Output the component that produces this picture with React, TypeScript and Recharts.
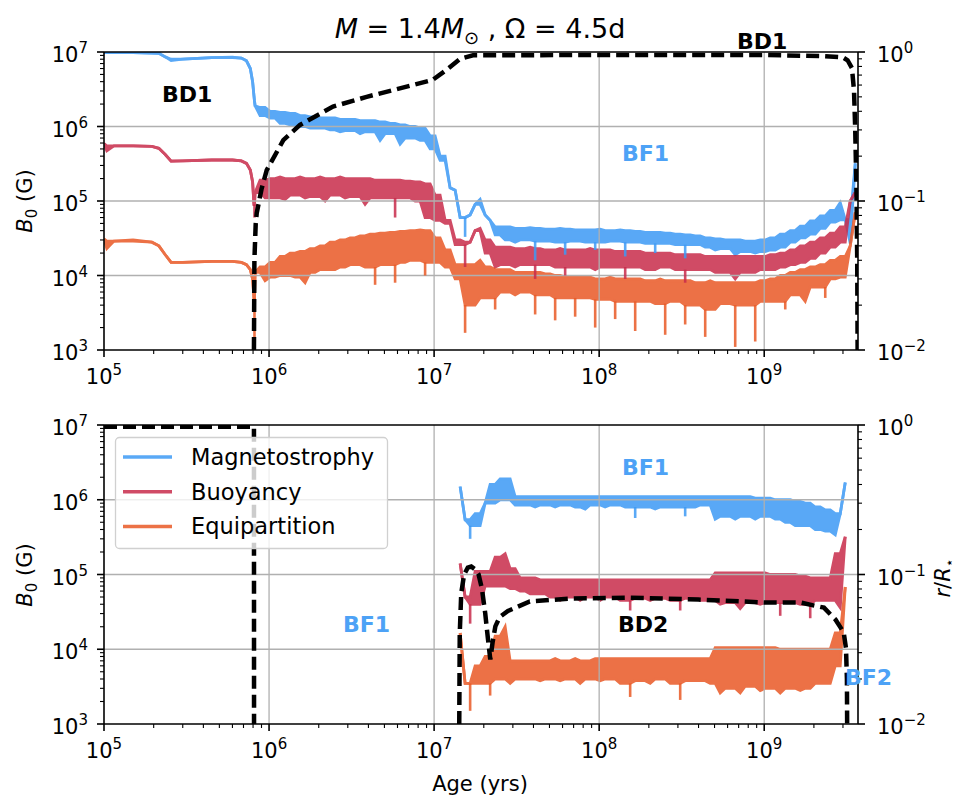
import { ComposedChart, Area, Line, XAxis, YAxis, ReferenceLine } from "recharts";

const FONT = "DejaVu Sans, Verdana, sans-serif";
const BLUE = "#3d9af5";
const RED = "#c82c4b";
const ORANGE = "#e95926";
const LABEL_BLUE = "#4da2f6";

const X_MIN = 1e5;
const X_MAX = 3.7e9;

// pre-main-sequence part of the top panel (smooth)
const earlyAge = [1e5, 1.04e5, 1.15e5, 1.5e5, 1.95e5, 2.15e5, 2.35e5, 2.55e5, 3.0e5, 4.5e5, 6.0e5, 6.8e5, 7.3e5, 7.7e5, 7.95e5, 8.1e5, 8.16e5];
const magEarly = [9.8e6, 9.8e6, 9.8e6, 9.8e6, 9.7e6, 9.6e6, 8.6e6, 7.7e6, 8.0e6, 8.4e6, 8.5e6, 8.3e6, 7.6e6, 6.0e6, 4.0e6, 2.6e6, 2.2e6];
const buoyEarly = [5.9e5, 4.7e5, 5.5e5, 5.5e5, 5.4e5, 5.1e5, 4.2e5, 3.4e5, 3.45e5, 3.55e5, 3.55e5, 3.45e5, 3.2e5, 2.6e5, 1.8e5, 9e4, 6e4];
const equiEarly = [3.1e4, 2.3e4, 2.9e4, 3.0e4, 2.8e4, 2.5e4, 1.9e4, 1.5e4, 1.5e4, 1.55e4, 1.55e4, 1.5e4, 1.4e4, 1.2e4, 9e3, 5e3, 1e3];

// age grid of the noisy part (yrs)
const age = [
  8.23e5, 8.82e5, 9.46e5, 1.014e6, 1.087e6, 1.166e6, 1.25e6, 1.341e6, 1.438e6, 1.541e6, 1.653e6,
  1.772e6, 1.9e6, 2.038e6, 2.185e6, 2.343e6, 2.512e6, 2.694e6, 2.888e6, 3.097e6, 3.32e6, 3.561e6,
  3.818e6, 4.094e6, 4.39e6, 4.707e6, 5.047e6, 5.412e6, 5.803e6, 6.222e6, 6.672e6, 7.154e6, 7.671e6,
  8.23e6, 8.82e6, 9.46e6, 1.014e7, 1.087e7, 1.166e7, 1.25e7, 1.341e7, 1.438e7, 1.541e7, 1.653e7,
  1.772e7, 1.9e7, 2.038e7, 2.185e7, 2.343e7, 2.512e7, 2.694e7, 2.888e7, 3.097e7, 3.32e7, 3.561e7,
  3.818e7, 4.094e7, 4.39e7, 4.707e7, 5.047e7, 5.412e7, 5.803e7, 6.222e7, 6.672e7, 7.154e7, 7.671e7,
  8.23e7, 8.82e7, 9.46e7, 1.014e8, 1.087e8, 1.166e8, 1.25e8, 1.341e8, 1.438e8, 1.541e8, 1.653e8,
  1.772e8, 1.9e8, 2.038e8, 2.185e8, 2.343e8, 2.512e8, 2.694e8, 2.888e8, 3.097e8, 3.32e8, 3.561e8,
  3.818e8, 4.094e8, 4.39e8, 4.707e8, 5.047e8, 5.412e8, 5.803e8, 6.222e8, 6.672e8, 7.154e8, 7.671e8,
  8.23e8, 8.82e8, 9.46e8, 1.014e9, 1.087e9, 1.166e9, 1.25e9, 1.341e9, 1.438e9, 1.541e9, 1.653e9,
  1.772e9, 1.9e9, 2.038e9, 2.185e9, 2.343e9, 2.512e9, 2.694e9, 2.888e9, 3.097e9, 3.32e9, 3.561e9,
];

const topMag = [
  1.9e6, 1.4e6, 1.8e6, 1.3e6, 1.6e6, 1.1e6, 1.55e6, 1.05e6, 1.5e6, 1.0e6, 1.4e6,
  9.5e5, 1.35e6, 9.5e5, 1.3e6, 9e5, 1.3e6, 8.5e5, 1.25e6, 8.8e5, 1.25e6, 8e5,
  1.2e6, 8.5e5, 1.2e6, 6.5e5, 1.15e6, 8e5, 1.1e6, 5.8e5, 1.05e6, 7e5, 1.0e6,
  6.5e5, 9.5e5, 5e5, 7.5e5, 3.5e5, 4e5, 1.5e5, 1.4e5, 6e4, 3.3e4, 6.5e4,
  9e4, 1.05e5, 6.5e4, 5.5e4, 3.5e4, 4.5e4, 3e4, 4.5e4, 2.8e4, 4.3e4, 3e4,
  4.4e4, 1.6e4, 4.3e4, 2.9e4, 4.2e4, 2.8e4, 4.3e4, 1.9e4, 4.2e4, 2.9e4, 4.1e4,
  2.8e4, 4.1e4, 2.2e4, 4.2e4, 2.8e4, 4.0e4, 2.9e4, 4.1e4, 1.8e4, 4.0e4, 2.8e4,
  3.9e4, 2.7e4, 3.8e4, 2.0e4, 3.8e4, 2.7e4, 3.7e4, 2.6e4, 3.6e4, 1.7e4, 3.5e4,
  2.6e4, 3.4e4, 2.4e4, 3.2e4, 2.2e4, 3.1e4, 2.3e4, 3.0e4, 1.9e4, 3.0e4, 2.1e4,
  2.9e4, 2.0e4, 3.0e4, 2.1e4, 3.2e4, 2.2e4, 3.6e4, 2.4e4, 4.0e4, 2.8e4, 4.6e4,
  3.2e4, 5.4e4, 3.6e4, 6.3e4, 4.3e4, 7.5e4, 5.2e4, 9.5e4, 5.6e4, 2.7e4, 3.2e5,
];

const topBuoy = [
  1.3e5, 1.9e5, 1.1e5, 2.0e5, 1.1e5, 2.1e5, 1.05e5, 2.0e5, 1.2e5, 2.1e5, 1.1e5,
  2.0e5, 1.15e5, 2.1e5, 1.0e5, 2.0e5, 1.2e5, 2.1e5, 1.1e5, 2.0e5, 1.15e5, 2.0e5,
  9e4, 2.0e5, 1.1e5, 1.9e5, 1.1e5, 1.9e5, 6e4, 1.9e5, 1.1e5, 1.85e5, 1.0e5,
  1.8e5, 6e4, 1.7e5, 5.5e4, 1.2e5, 5e4, 5.5e4, 2.6e4, 3e4, 1.3e4, 2.8e4,
  4e4, 4.3e4, 2.0e4, 3e4, 1.3e4, 2.4e4, 1.4e4, 2.4e4, 1.3e4, 2.3e4, 1.4e4,
  2.4e4, 9e3, 2.3e4, 1.4e4, 2.2e4, 1.3e4, 2.3e4, 1.0e4, 2.2e4, 1.3e4, 2.2e4,
  1.3e4, 2.3e4, 1.2e4, 2.2e4, 1.3e4, 2.2e4, 1.3e4, 2.1e4, 9e3, 2.1e4, 1.3e4,
  2.1e4, 1.2e4, 2.0e4, 1.2e4, 2.0e4, 1.3e4, 2.0e4, 1.2e4, 1.9e4, 8e3, 1.9e4,
  1.2e4, 1.9e4, 1.2e4, 1.8e4, 1.1e4, 1.8e4, 1.1e4, 1.8e4, 9e3, 1.8e4, 1.1e4,
  1.8e4, 1.1e4, 1.8e4, 1.2e4, 1.9e4, 1.2e4, 2.0e4, 1.3e4, 2.2e4, 1.4e4, 2.5e4,
  1.5e4, 2.8e4, 1.7e4, 3.2e4, 2.0e4, 3.7e4, 2.4e4, 4.5e4, 2.8e4, 1.0e5, 1.3e5,
];

const topEqui = [
  1.1e4, 1.3e4, 8.5e3, 1.5e4, 9.5e3, 1.8e4, 1.0e4, 2.0e4, 9.5e3, 2.1e4, 8e3,
  2.3e4, 1.1e4, 2.5e4, 1.2e4, 2.8e4, 1.2e4, 3.0e4, 1.3e4, 3.2e4, 1.4e4, 3.4e4,
  1.3e4, 3.6e4, 7.5e3, 3.7e4, 1.4e4, 3.8e4, 8e3, 3.9e4, 1.5e4, 4.0e4, 1.6e4,
  4.1e4, 1.0e4, 4.0e4, 1.5e4, 3.2e4, 1.3e4, 2.2e4, 9e3, 1.4e4, 1.7e3, 1.4e4,
  4e3, 1.6e4, 5e3, 1.3e4, 3.5e3, 1.2e4, 6e3, 1.2e4, 5.5e3, 1.1e4, 6e3,
  1.1e4, 3e3, 1.1e4, 5.5e3, 1.05e4, 2.5e3, 1.0e4, 5e3, 9.5e3, 2.8e3, 9.5e3,
  5e3, 9.5e3, 2.0e3, 9e3, 4.8e3, 9.5e3, 2.6e3, 9e3, 4.5e3, 9e3, 1.8e3,
  9e3, 4.5e3, 8.5e3, 4.2e3, 9e3, 1.6e3, 8.5e3, 4.5e3, 8.5e3, 2.2e3, 8.5e3,
  4e3, 8e3, 1.5e3, 8.5e3, 3.5e3, 8e3, 4.2e3, 8e3, 1.1e3, 8e3, 4e3,
  8e3, 1.3e3, 8.5e3, 4.5e3, 9e3, 4.5e3, 1.0e4, 3.5e3, 1.1e4, 5.5e3, 1.2e4,
  4.5e3, 1.3e4, 7e3, 1.4e4, 5e3, 1.6e4, 9e3, 1.8e4, 9.5e3, 2.5e4, 7e4,
];

// bottom panel starts at 1.44e7 yrs
const botAge = age.slice(41, 119);

const botMag = [
  1.5e6, 5.4e5, 3e5,
  6.5e5, 4.5e5, 9e5, 1.6e6, 9e5, 1.9e6, 1.0e6, 1.9e6, 8.5e5, 1.1e6, 8.5e5,
  1.1e6, 8e5, 1.1e6, 8.5e5, 1.1e6, 8e5, 1.1e6, 8.5e5, 1.1e6, 8e5, 1.1e6,
  7.5e5, 1.1e6, 8.5e5, 1.1e6, 8e5, 1.1e6, 8.5e5, 1.1e6, 8e5, 1.1e6, 5.7e5,
  1.1e6, 8e5, 1.1e6, 7.5e5, 1.1e6, 8e5, 1.1e6, 8e5, 1.1e6, 6e5, 1.1e6,
  8e5, 1.1e6, 8.5e5, 1.1e6, 5.5e5, 1.1e6, 6e5, 1.1e6, 5.5e5, 1.1e6, 6e5,
  1.1e6, 5.5e5, 1.05e6, 6e5, 1.05e6, 5.5e5, 1.0e6, 5e5, 1.0e6, 4.5e5, 9.5e5,
  4.5e5, 9e5, 4e5, 8e5, 3.8e5, 7.3e5, 3.4e5, 6.5e5, 1.7e6,
];

const botBuoy = [
  1.4e5, 5e4, 2.2e4,
  1.1e5, 4e4, 1.1e5, 7e4, 1.7e5, 7e4, 1.9e5, 6.5e4, 1.2e5, 6e4, 9e4,
  5.5e4, 9e4, 5.5e4, 8.5e4, 5e4, 8.5e4, 4.5e4, 8.5e4, 5e4, 8.5e4, 4.5e4,
  8.5e4, 5e4, 8.5e4, 4.5e4, 8.5e4, 5e4, 8.5e4, 4.5e4, 8.5e4, 3.3e4, 8.5e4,
  4.8e4, 8.5e4, 4.5e4, 8.5e4, 4.8e4, 8.5e4, 4.5e4, 8.5e4, 3.3e4, 8.5e4, 4.8e4,
  8.5e4, 4.5e4, 8.5e4, 4.5e4, 1.05e5, 4e4, 1.05e5, 4.2e4, 1.05e5, 3.5e4, 1.05e5,
  4.2e4, 1.05e5, 4e4, 1.05e5, 4.2e4, 1.0e5, 2.8e4, 1.0e5, 4.2e4, 1.0e5, 4e4,
  9.5e4, 2.6e4, 9e4, 4.5e4, 9e4, 4.5e4, 1.9e5, 3.6e4, 3.2e5,
];

const botEqui = [
  1.65e4, 3.5e3, 1.5e3,
  6e3, 3.5e3, 8e3, 2.4e3, 1.5e4, 4e3, 2e4, 3.5e3, 7e3, 4e3, 7e3,
  4e3, 7e3, 3.8e3, 7e3, 4e3, 7.5e3, 3.8e3, 7e3, 4e3, 7.5e3, 3.5e3,
  7e3, 4e3, 7.5e3, 3.8e3, 7.5e3, 4e3, 7.5e3, 3.5e3, 7.5e3, 2.3e3, 7.5e3,
  3.8e3, 7.5e3, 3.5e3, 7.5e3, 4e3, 7.5e3, 3.5e3, 7.5e3, 2.1e3, 7.5e3, 3.8e3,
  7.5e3, 3.8e3, 7.5e3, 3.5e3, 1.05e4, 2.6e3, 1.05e4, 3e3, 1.05e4, 2.6e3, 1.05e4,
  3.2e3, 1.05e4, 2.8e3, 1.05e4, 3e3, 1.05e4, 2.6e3, 1.0e4, 3e3, 1.0e4, 2.8e3,
  1.0e4, 3e3, 1.0e4, 3.5e3, 1.0e4, 3.5e3, 1.65e4, 6e3, 6.8e4,
];

// boundary of the convective zone, r / R*
const topDashAge = [8.1e5, 8.15e5, 8.3e5, 8.42e5, 9.0e5, 9.68e5, 1.22e6, 1.54e6, 2.44e6, 3.9e6, 6.2e6, 9.8e6, 1.19e7, 1.44e7, 1.72e7, 1e8, 1e9, 2.2e9, 3.0e9, 3.2e9, 3.4e9, 3.5e9, 3.56e9, 3.62e9, 3.66e9, 3.68e9];
const topDashR = [0.01, 0.04, 0.07, 0.083, 0.12, 0.161, 0.256, 0.324, 0.43, 0.5, 0.57, 0.65, 0.76, 0.9, 0.95, 0.955, 0.955, 0.94, 0.92, 0.88, 0.78, 0.55, 0.3, 0.12, 0.04, 0.01];

const botDash1Age = [1e5, 8.1e5, 8.11e5];
const botDash1R = [0.975, 0.975, 0.01];

const botDash2Age = [1.42e7, 1.43e7, 1.46e7, 1.52e7, 1.6e7, 1.68e7, 1.78e7, 1.86e7, 1.95e7, 2.04e7, 2.12e7, 2.19e7, 2.26e7, 2.35e7, 2.5e7, 2.8e7, 3.8e7, 6.6e7, 1.5e8, 4e8, 1e9, 1.65e9, 2.3e9, 2.7e9, 3.03e9, 3.13e9, 3.17e9, 3.18e9];
const botDash2R = [0.01, 0.04, 0.075, 0.1, 0.111, 0.113, 0.108, 0.1, 0.08, 0.055, 0.037, 0.027, 0.035, 0.045, 0.052, 0.057, 0.066, 0.069, 0.07, 0.068, 0.065, 0.065, 0.06, 0.05, 0.041, 0.032, 0.02, 0.01];

type Spike = { age: number; from: number; to: number };

// the dense raw signal is drawn as a filled band between each sample and its
// neighbours; isolated deep minima are drawn as thin spikes below the band
function band(ages: number[], v: number[]) {
  const spikes: Spike[] = [];
  const rng = v.map((y, i) => {
    const a = v[i - 1];
    const b = v[i + 1];
    if (a === undefined || b === undefined) return [y, y];
    if (y >= a && y >= b) return [Math.max(a, b), y];
    if (y <= a && y <= b) {
      const top = Math.min(a, b);
      const l2 = v[i - 2];
      const r2 = v[i + 2];
      if (l2 !== undefined && r2 !== undefined) {
        const ref = Math.min(l2, r2, top);
        if (y < 0.8 * ref) {
          spikes.push({ age: ages[i], from: ref, to: y });
          return [ref, top];
        }
      }
      return [y, top];
    }
    return [y, y];
  });
  return { rng, spikes };
}

function makePanel(ages: number[], mag: number[], buoy: number[], equi: number[]) {
  const m = band(ages, mag);
  const bu = band(ages, buoy);
  const e = band(ages, equi);
  return {
    rows: ages.map((a, i) => ({ age: a, mag: m.rng[i], buoy: bu.rng[i], equi: e.rng[i] })),
    spikes: { mag: m.spikes, buoy: bu.spikes, equi: e.spikes } as Record<string, Spike[]>,
  };
}

const topPanel = makePanel(
  [...earlyAge, ...age],
  [...magEarly, ...topMag],
  [...buoyEarly, ...topBuoy],
  [...equiEarly, ...topEqui],
);
const botPanel = makePanel(botAge, botMag, botBuoy, botEqui);

const toDash = (ages: number[], r: number[]) => ages.map((a, i) => ({ age: a, r: r[i] }));

function logTicks(lo: number, hi: number) {
  const out: number[] = [];
  for (let e = Math.floor(Math.log10(lo)); e <= Math.ceil(Math.log10(hi)); e++) {
    for (let m = 1; m < 10; m++) {
      const v = +(m * Math.pow(10, e)).toPrecision(3);
      if (v >= lo * 0.999 && v <= hi * 1.001) out.push(v);
    }
  }
  return out;
}

const xTicks = logTicks(X_MIN, X_MAX);
const leftTicks = logTicks(1e3, 1e7);
const rightTicks = logTicks(0.01, 1);
const gridX = [1e6, 1e7, 1e8, 1e9];
const gridY = [1e4, 1e5, 1e6];

const expOf = (v: number) => Math.round(Math.log10(v));
const isMajor = (v: number) => Math.abs(Math.log10(v) - expOf(v)) < 1e-6;
const expText = (e: number) => (e < 0 ? "\u2212" + -e : String(e));

function PowerLabel({ x, y, v, anchor }: { x: number; y: number; v: number; anchor: string }) {
  return (
    <text x={x} y={y} textAnchor={anchor} fontSize={21} fontFamily={FONT} fill="#000">
      10
      <tspan dy={-9} fontSize={15}>
        {expText(expOf(v))}
      </tspan>
    </text>
  );
}

function BottomTick(props: any) {
  const { x, y, payload } = props;
  const major = isMajor(payload.value);
  return (
    <g>
      <line x1={x} x2={x} y1={y} y2={y + (major ? 7 : 4)} stroke="#000" strokeWidth={major ? 1.6 : 1.1} />
      {major && <PowerLabel x={x} y={y + 34} v={payload.value} anchor="middle" />}
    </g>
  );
}

function LeftTick(props: any) {
  const { x, y, payload } = props;
  const major = isMajor(payload.value);
  return (
    <g>
      <line x1={x - (major ? 7 : 4)} x2={x} y1={y} y2={y} stroke="#000" strokeWidth={major ? 1.6 : 1.1} />
      {major && <PowerLabel x={x - 16} y={y + 10} v={payload.value} anchor="end" />}
    </g>
  );
}

function RightTick(props: any) {
  const { x, y, payload } = props;
  const major = isMajor(payload.value);
  return (
    <g>
      <line x1={x} x2={x + (major ? 7 : 4)} y1={y} y2={y} stroke="#000" strokeWidth={major ? 1.6 : 1.1} />
      {major && <PowerLabel x={x + 19} y={y + 10} v={payload.value} anchor="start" />}
    </g>
  );
}

const axisStyle = { stroke: "#000", strokeWidth: 1.6 };

const series = [
  { key: "mag", color: BLUE },
  { key: "buoy", color: RED },
  { key: "equi", color: ORANGE },
];

function Panel({ data, dashes, top, height, marginTop, marginBottom }: any) {
  return (
    <div style={{ position: "absolute", left: 0, top }}>
      <ComposedChart width={959} height={height} data={data.rows} margin={{ top: marginTop, right: 41, bottom: marginBottom, left: 44 }}>
        <XAxis
          dataKey="age"
          type="number"
          scale="log"
          domain={[X_MIN, X_MAX]}
          allowDataOverflow
          ticks={xTicks}
          interval={0}
          tickSize={0}
          tickMargin={0}
          tick={<BottomTick />}
          axisLine={axisStyle}
          height={40}
        />
        <YAxis
          yAxisId="left"
          type="number"
          scale="log"
          domain={[1e3, 1e7]}
          allowDataOverflow
          ticks={leftTicks}
          interval={0}
          tickSize={0}
          tickMargin={0}
          tick={<LeftTick />}
          axisLine={axisStyle}
          width={60}
        />
        <YAxis
          yAxisId="right"
          orientation="right"
          type="number"
          scale="log"
          domain={[0.01, 1]}
          allowDataOverflow
          ticks={rightTicks}
          interval={0}
          tickSize={0}
          tickMargin={0}
          tick={<RightTick />}
          axisLine={axisStyle}
          width={60}
        />
        {gridX.map((v) => (
          <ReferenceLine key={"gx" + v} x={v} yAxisId="left" stroke="#b0b0b0" strokeWidth={1.3} />
        ))}
        {gridY.map((v) => (
          <ReferenceLine key={"gy" + v} y={v} yAxisId="left" stroke="#b0b0b0" strokeWidth={1.3} />
        ))}
        <ReferenceLine y={1e7} yAxisId="left" stroke="#000" strokeWidth={1.6} ifOverflow="visible" />
        {series.map((s) => (
          <Area
            key={s.key}
            className="band"
            yAxisId="left"
            dataKey={s.key}
            type="linear"
            stroke={s.color}
            strokeWidth={2.8}
            fill={s.color}
            fillOpacity={1}
            dot={false}
            activeDot={false}
            isAnimationActive={false}
          />
        ))}
        {series.map((s) =>
          data.spikes[s.key].map((sp: Spike, i: number) => (
            <ReferenceLine
              key={s.key + "s" + i}
              yAxisId="left"
              segment={[
                { x: sp.age, y: sp.from },
                { x: sp.age, y: sp.to },
              ]}
              stroke={s.color}
              strokeOpacity={0.85}
              strokeWidth={2.6}
            />
          )),
        )}
        {dashes.map((d: any, i: number) => (
          <Line
            key={"d" + i}
            yAxisId="right"
            data={d}
            dataKey="r"
            stroke="#000"
            strokeWidth={4.5}
            strokeDasharray="13 6"
            dot={false}
            activeDot={false}
            isAnimationActive={false}
          />
        ))}
      </ComposedChart>
    </div>
  );
}

const legendItems = [
  { name: "Magnetostrophy", color: BLUE },
  { name: "Buoyancy", color: RED },
  { name: "Equipartition", color: ORANGE },
];

function Overlay() {
  return (
    <svg width={959} height={797} style={{ position: "absolute", left: 0, top: 0, pointerEvents: "none" }} fontFamily={FONT}>
      <text x={480} y={38} textAnchor="middle" fontSize={27} fill="#000">
        <tspan fontStyle="italic">M</tspan>
        {" = 1.4"}
        <tspan fontStyle="italic">M</tspan>
        <tspan fontSize={18} dy={6}>⊙</tspan>
        <tspan dy={-6}>{" , Ω = 4.5d"}</tspan>
      </text>

      {[201, 575].map((cy) => (
        <text key={cy} transform={`translate(32,${cy}) rotate(-90)`} textAnchor="middle" fontSize={21} fill="#000">
          <tspan fontStyle="italic">B</tspan>
          <tspan fontSize={15} dy={5}>0</tspan>
          <tspan dy={-5}>{" (G)"}</tspan>
        </text>
      ))}
      <text transform="translate(950,578) rotate(-90)" textAnchor="middle" fontSize={21} fill="#000">
        <tspan fontStyle="italic">r</tspan>/<tspan fontStyle="italic">R</tspan>
        <tspan fontSize={14} dy={4}>⋆</tspan>
      </text>
      <text x={480} y={791} textAnchor="middle" fontSize={21} fill="#000">
        Age (yrs)
      </text>

      <g fontSize={22} fontWeight="bold">
        <text x={162} y={102} fill="#000">BD1</text>
        <text x={737} y={49} fill="#000">BD1</text>
        <text x={622} y={161} fill={LABEL_BLUE}>BF1</text>
        <text x={622} y={475} fill={LABEL_BLUE}>BF1</text>
        <text x={343} y={632} fill={LABEL_BLUE}>BF1</text>
        <text x={618} y={632} fill="#000">BD2</text>
        <text x={845} y={685} fill={LABEL_BLUE}>BF2</text>
      </g>

      <rect x={115.5} y={437.5} width={272} height={111} rx={4} fill="#fff" fillOpacity={0.8} stroke="#d0d0d0" strokeWidth={1.3} />
      {legendItems.map((it, i) => (
        <g key={it.name}>
          <line x1={123} x2={172} y1={457 + i * 34.7} y2={457 + i * 34.7} stroke={it.color} strokeOpacity={0.85} strokeWidth={3.5} />
          <text x={191} y={465 + i * 34.7} fontSize={22.5} fill="#000">
            {it.name}
          </text>
        </g>
      ))}
    </svg>
  );
}

export default function App() {
  return (
    <div style={{ position: "absolute", left: 0, top: 0, width: 959, height: 797, background: "#fff", fontFamily: FONT }}>
      <style>{`.band { opacity: 0.85; }`}</style>
      <Panel data={topPanel} dashes={[toDash(topDashAge, topDashR)]} top={0} height={400} marginTop={52} marginBottom={10} />
      <Panel
        data={botPanel}
        dashes={[toDash(botDash1Age, botDash1R), toDash(botDash2Age, botDash2R)]}
        top={400}
        height={397}
        marginTop={25}
        marginBottom={33}
      />
      <Overlay />
    </div>
  );
}
